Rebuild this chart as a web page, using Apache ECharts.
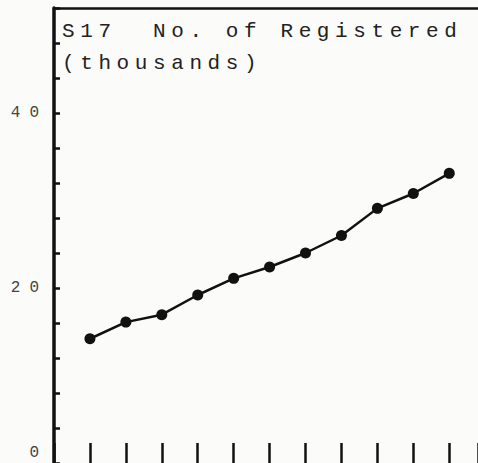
<!DOCTYPE html>
<html>
<head>
<meta charset="utf-8">
<script src="https://cdn.jsdelivr.net/npm/echarts@6/dist/echarts.min.js"></script>
<style>
  html, body { margin: 0; padding: 0; background: #fbfbf9; }
  #chart { width: 478px; height: 463px; }
  /* typewriter look: wide letter spacing */
  #chart text[style*="21px"] { letter-spacing: 5.6px; }
  #chart text[style*="16px"] { letter-spacing: 9px; }
</style>
</head>
<body>
<div id="chart"></div>
<script>
'use strict';

// data
var periods = [1, 2, 3, 4, 5, 6, 7, 8, 9, 10, 11];
var registered = [14.2, 16.1, 16.95, 19.2, 21.1, 22.4, 24.0, 26.0, 29.1, 30.8, 33.1];
var yLabels = [0, 20, 40];

var points = periods.map(function (p, i) { return [p, registered[i]]; });

var myChart = echarts.init(document.getElementById('chart'), null, { renderer: 'svg' });

myChart.setOption({
  backgroundColor: '#fbfbf9',
  animation: false,
  title: {
    text: 'S17  No. of Registered\n(thousands)',
    left: 62,
    top: 15,
    padding: 0,
    textStyle: {
      fontFamily: 'Liberation Mono',
      fontSize: 21,
      fontWeight: 'normal',
      color: '#222',
      lineHeight: 32
    }
  },
  grid: { left: 54, right: 0, top: 8, bottom: -2 },
  xAxis: [{
    type: 'value',
    min: 0,
    max: 11.8,
    interval: 1,
    axisLine: { show: false },
    axisTick: { inside: true, length: 20, lineStyle: { color: '#111', width: 2.5 } },
    axisLabel: { show: false },
    splitLine: { show: false }
  }, {
    type: 'value',
    position: 'top',
    min: 0,
    max: 11.8,
    axisLine: { show: true, lineStyle: { color: '#111', width: 2.5 } },
    axisTick: { show: false },
    axisLabel: { show: false },
    splitLine: { show: false }
  }],
  yAxis: {
    type: 'value',
    min: 0,
    max: 52,
    interval: 4,
    axisLine: { show: true, lineStyle: { color: '#111', width: 3.5 } },
    axisTick: { inside: true, length: 6, lineStyle: { color: '#111', width: 2.5 } },
    splitLine: { show: false },
    axisLabel: {
      margin: 6,
      fontFamily: 'Liberation Mono',
      fontSize: 16,
      color: '#444',
      formatter: function (v) {
        if (yLabels.indexOf(v) < 0) return '';
        return v === 0 ? '{z|0}' : String(v);
      },
      rich: {
        z: { fontFamily: 'Liberation Mono', fontSize: 16, color: '#444', padding: [0, 0, 20, 0] }
      }
    }
  },
  series: [{
    type: 'line',
    data: points,
    symbol: 'circle',
    symbolSize: 11,
    itemStyle: { color: '#111' },
    lineStyle: { color: '#111', width: 2.5 }
  }]
});
</script>
</body>
</html>
